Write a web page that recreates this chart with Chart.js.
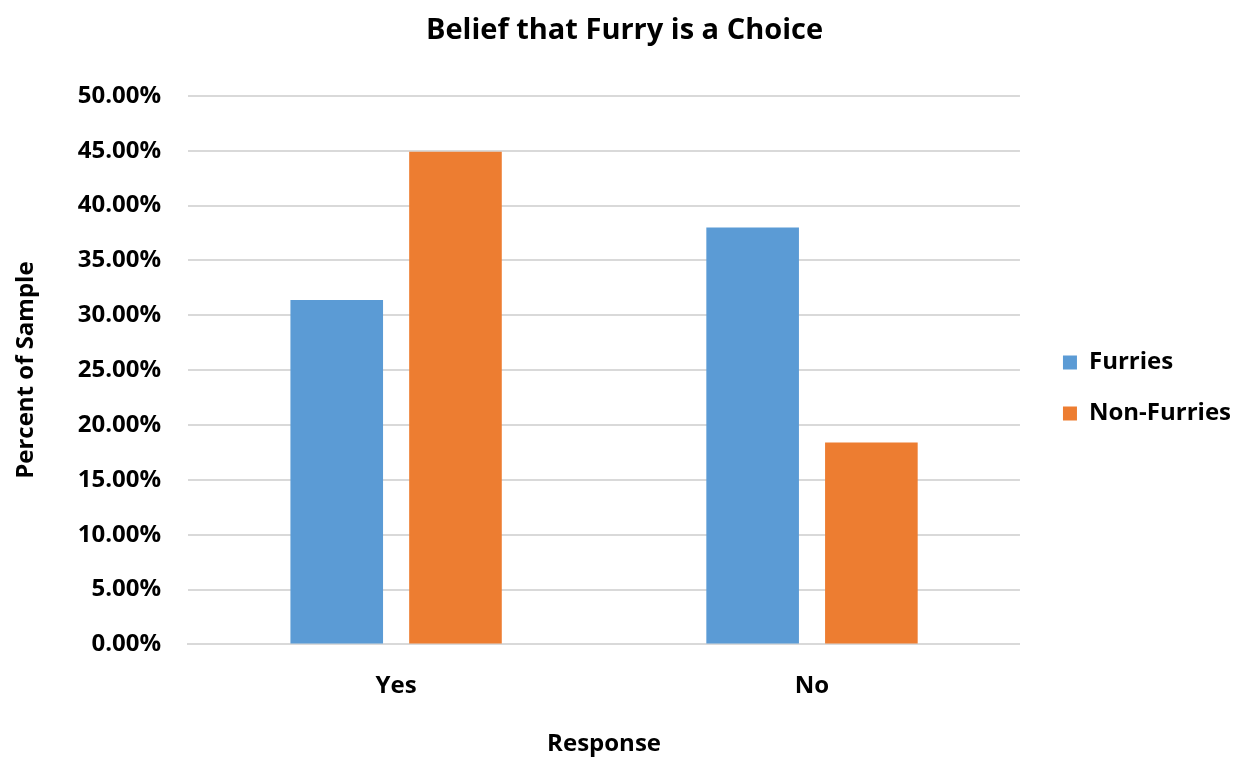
<!DOCTYPE html>
<html>
<head>
<meta charset="utf-8">
<title>Belief that Furry is a Choice</title>
<script src="https://cdn.jsdelivr.net/npm/chart.js@4.4.1/dist/chart.umd.min.js"></script>
<style>
  html, body { margin: 0; padding: 0; background: #fff; }
  #wrap { width: 1234px; height: 759px; }
</style>
</head>
<body>
<div id="wrap"><canvas id="chart"></canvas></div>
<script>
// data
const categories = ['Yes', 'No'];
const furries = [31.4, 38.0];
const nonFurries = [44.9, 18.4];
const yTicks = [0, 5, 10, 15, 20, 25, 30, 35, 40, 45, 50];

const FONT = '"Open Sans", "Liberation Sans", sans-serif';

new Chart(document.getElementById('chart').getContext('2d'), {
  type: 'bar',
  data: {
    labels: categories,
    datasets: [
      { label: 'Furries', data: furries, backgroundColor: '#5B9BD5', yAxisID: 'y' },
      { label: 'Non-Furries', data: nonFurries, backgroundColor: '#ED7D31', yAxisID: 'y' }
    ]
  },
  options: {
    responsive: true,
    maintainAspectRatio: false,
    animation: false,
    datasets: { bar: { categoryPercentage: 0.571, barPercentage: 0.78 } },
    layout: { padding: { left: 8, right: -7, top: 13, bottom: -4 } },
    plugins: {
      title: {
        display: true,
        text: 'Belief that Furry is a Choice',
        color: '#000',
        font: { family: FONT, size: 29, weight: 'bold' },
        padding: { top: 0, bottom: 48 }
      },
      legend: {
        position: 'right',
        labels: {
          color: '#000',
          font: { family: FONT, size: 24, weight: 'bold' },
          boxWidth: 14,
          boxHeight: 14,
          padding: 27
        }
      },
      tooltip: { enabled: false }
    },
    scales: {
      x: {
        grid: { display: false },
        border: { display: true, color: '#d9d9d9', width: 2 },
        ticks: { color: '#000', font: { family: FONT, size: 24, weight: 'bold' }, padding: 19 },
        title: {
          display: true,
          text: 'Response',
          color: '#000',
          font: { family: FONT, size: 24, weight: 'bold' },
          padding: { top: 11 }
        }
      },
      y: {
        min: 0,
        max: 50,
        afterBuildTicks: axis => { axis.ticks = yTicks.map(v => ({ value: v })); },
        grid: { color: '#d9d9d9', lineWidth: 2, drawTicks: false },
        border: { display: false },
        ticks: {
          color: '#000',
          font: { family: FONT, size: 24, weight: 'bold' },
          padding: 27,
          callback: v => v.toFixed(2) + '%'
        },
        title: {
          display: true,
          text: 'Percent of Sample',
          color: '#000',
          font: { family: FONT, size: 24, weight: 'bold' },
          padding: { bottom: 10 }
        }
      },
      // empty spacer axis: keeps the gap between plot and legend
      gap: {
        type: 'linear',
        position: 'right',
        grid: { display: false },
        border: { display: false },
        ticks: { display: false },
        afterFit: s => { s.width = 16; }
      }
    }
  }
});
</script>
</body>
</html>
